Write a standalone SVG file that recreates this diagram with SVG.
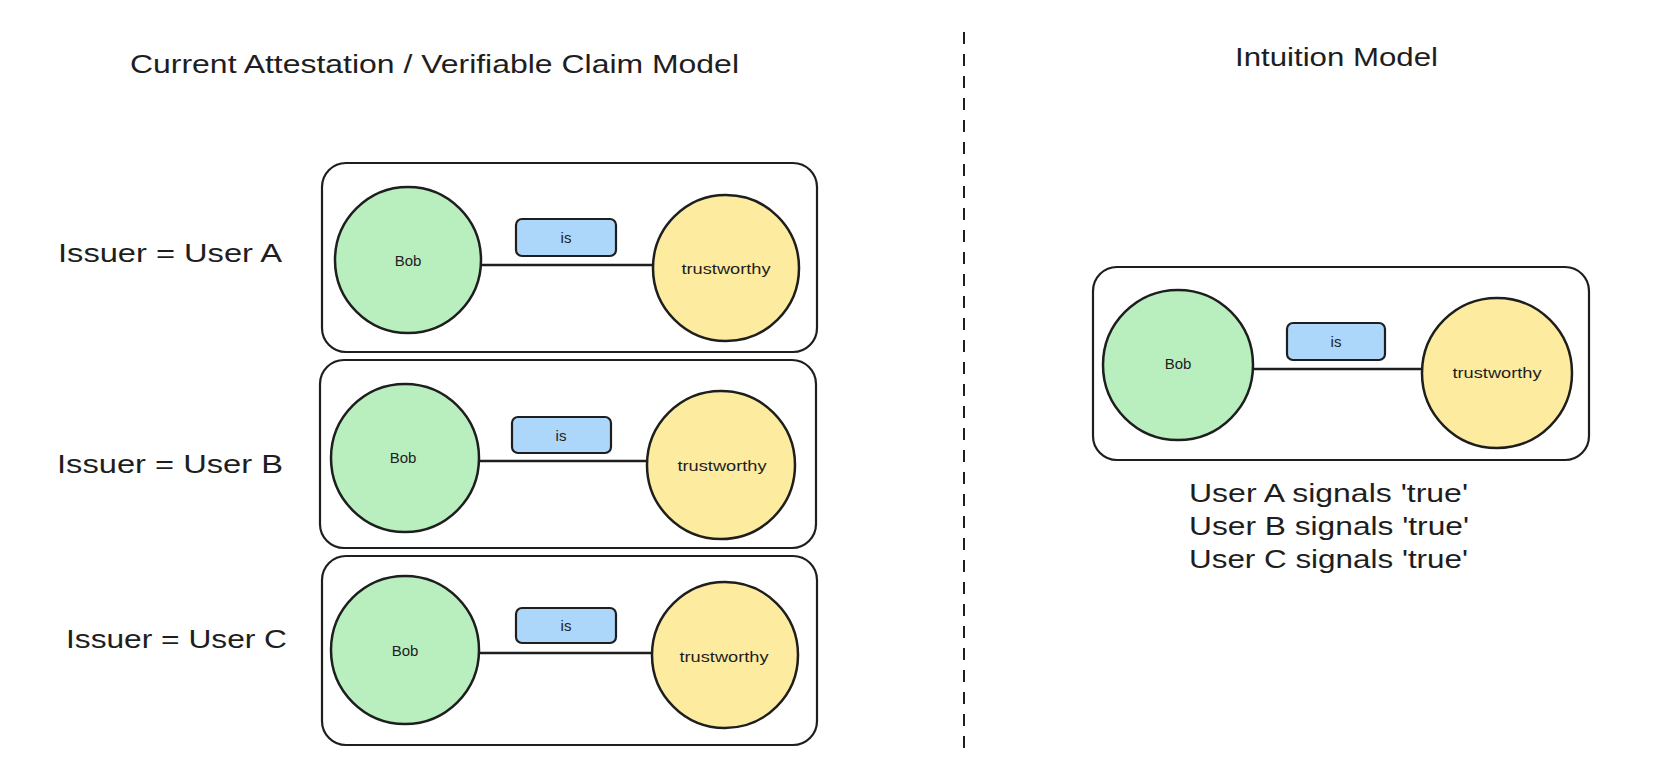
<svg xmlns="http://www.w3.org/2000/svg" width="1662" height="772" viewBox="0 0 1662 772">
<style>
.bg{fill:#ffffff}
.frame{fill:#ffffff;stroke:#1e1e1e;stroke-width:2.2;stroke-linejoin:round}
.green{fill:#b9efbf;stroke:#1e1e1e;stroke-width:2.5}
.yellow{fill:#fdeba0;stroke:#1e1e1e;stroke-width:2.5}
.lbl{fill:#acd6fa;stroke:#1e1e1e;stroke-width:2.2}
.edge{stroke:#1e1e1e;stroke-width:2.6;fill:none}
.div{stroke:#1e1e1e;stroke-width:2;stroke-dasharray:12 10;fill:none}
text{font-family:"Liberation Sans",Arial,sans-serif;fill:#1e1e1e}
.big{font-size:26px}
.small{font-size:15px;text-anchor:middle;dominant-baseline:central}
</style>
<rect class="bg" x="0" y="0" width="1662" height="772"/>

<g id="titles">
<text class="big" x="130" y="73" textLength="609" lengthAdjust="spacingAndGlyphs">Current Attestation / Verifiable Claim Model</text>
<text class="big" x="1235" y="66" textLength="203" lengthAdjust="spacingAndGlyphs">Intuition Model</text>
</g>

<g id="divider">
<line class="div" x1="964" y1="32" x2="964" y2="752"/>
</g>

<g id="issuer-labels">
<text class="big" x="58" y="262" textLength="224" lengthAdjust="spacingAndGlyphs">Issuer = User A</text>
<text class="big" x="57" y="473" textLength="226" lengthAdjust="spacingAndGlyphs">Issuer = User B</text>
<text class="big" x="66" y="648" textLength="221" lengthAdjust="spacingAndGlyphs">Issuer = User C</text>
</g>

<g id="frame-a"><rect class="frame" x="322" y="163" width="495" height="189" rx="24"/></g>
<g id="frame-b"><rect class="frame" x="320" y="360" width="496" height="188" rx="24"/></g>
<g id="frame-c"><rect class="frame" x="322" y="556" width="495" height="189" rx="24"/></g>
<g id="frame-right"><rect class="frame" x="1093" y="267" width="496" height="193" rx="24"/></g>

<g id="connectors">
<line class="edge" x1="481" y1="265" x2="653" y2="265"/>
<line class="edge" x1="478" y1="461" x2="648" y2="461"/>
<line class="edge" x1="478" y1="653" x2="652" y2="653"/>
<line class="edge" x1="1251" y1="369" x2="1423" y2="369"/>
</g>

<g id="bob-a"><circle class="green" cx="408" cy="260" r="73"/><text class="small" x="408" y="260">Bob</text></g>
<g id="trust-a"><circle class="yellow" cx="726" cy="268" r="73"/><text class="small" x="726" y="268" textLength="89" lengthAdjust="spacingAndGlyphs">trustworthy</text></g>
<g id="is-a"><rect class="lbl" x="516" y="219" width="100" height="37" rx="6"/><text class="small" x="566" y="237">is</text></g>

<g id="bob-b"><circle class="green" cx="405" cy="458" r="74"/><text class="small" x="403" y="457">Bob</text></g>
<g id="trust-b"><circle class="yellow" cx="721" cy="465" r="74"/><text class="small" x="722" y="465" textLength="89" lengthAdjust="spacingAndGlyphs">trustworthy</text></g>
<g id="is-b"><rect class="lbl" x="512" y="417" width="99" height="36" rx="6"/><text class="small" x="561" y="435">is</text></g>

<g id="bob-c"><circle class="green" cx="405" cy="650" r="74"/><text class="small" x="405" y="650">Bob</text></g>
<g id="trust-c"><circle class="yellow" cx="725" cy="655" r="73"/><text class="small" x="724" y="656" textLength="89" lengthAdjust="spacingAndGlyphs">trustworthy</text></g>
<g id="is-c"><rect class="lbl" x="516" y="608" width="100" height="35" rx="6"/><text class="small" x="566" y="625">is</text></g>

<g id="bob-right"><circle class="green" cx="1178" cy="365" r="75"/><text class="small" x="1178" y="363">Bob</text></g>
<g id="trust-right"><circle class="yellow" cx="1497" cy="373" r="75"/><text class="small" x="1497" y="372" textLength="89" lengthAdjust="spacingAndGlyphs">trustworthy</text></g>
<g id="is-right"><rect class="lbl" x="1287" y="323" width="98" height="37" rx="6"/><text class="small" x="1336" y="341">is</text></g>

<g id="signals">
<text class="big" x="1189" y="502" textLength="279" lengthAdjust="spacingAndGlyphs">User A signals 'true'</text>
<text class="big" x="1189" y="535" textLength="280" lengthAdjust="spacingAndGlyphs">User B signals 'true'</text>
<text class="big" x="1189" y="568" textLength="279" lengthAdjust="spacingAndGlyphs">User C signals 'true'</text>
</g>
</svg>
